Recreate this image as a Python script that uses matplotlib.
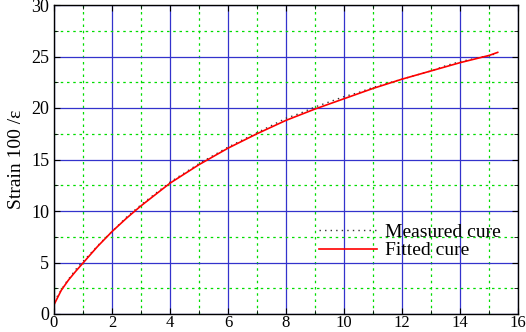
import matplotlib.pyplot as plt
from matplotlib.ticker import MultipleLocator

# measured / fitted strain curves
x_meas = [0.0, 0.4, 0.8, 1.2, 1.6, 2.0, 2.5, 3.0, 3.5, 4.0, 4.5, 5.0, 5.5, 6.0, 6.5, 7.0,
          7.5, 8.0, 8.5, 9.0, 9.5, 10.0, 10.5, 11.0, 11.5, 12.0, 12.5, 13.0, 13.5, 14.0,
          14.5, 15.0, 15.3]
y_meas = [1.2, 3.0, 4.5, 5.7, 6.9, 8.0, 9.4, 10.6, 11.7, 12.8, 13.7, 14.6, 15.4, 16.2, 16.9, 17.6,
          18.3, 19.0, 19.5, 20.1, 20.6, 21.1, 21.5, 22.0, 22.4, 22.8, 23.2, 23.6, 24.1, 24.5,
          24.8, 25.1, 25.3]
x_fit = [0.0, 0.25, 0.5, 0.75, 1.0, 1.5, 2.0, 2.5, 3.0, 4.0, 5.0, 6.0, 7.0, 8.0, 9.0,
         10.0, 11.0, 12.0, 13.0, 14.0, 15.0, 15.3]
y_fit = [0.9, 2.3, 3.3, 4.15, 4.95, 6.55, 8.0, 9.3, 10.5, 12.7, 14.5, 16.1, 17.5, 18.8, 19.9,
         20.9, 21.9, 22.8, 23.6, 24.4, 25.1, 25.4]

plt.rcParams['font.family'] = ['Liberation Serif', 'DejaVu Serif']

fig = plt.figure(figsize=(5.26, 3.32), dpi=100)
ax = fig.add_axes([54 / 526, 18 / 332, 464 / 526, 309 / 332])

ax.plot(x_meas, y_meas, linestyle=(0, (1, 3)), color='#333333', linewidth=1.0, label='Measured cure')
ax.plot(x_fit, y_fit, color='red', linewidth=1.2, label='Fitted cure')

ax.set_xlim(0, 16)
ax.set_ylim(0, 30)
ax.xaxis.set_major_locator(MultipleLocator(2))
ax.xaxis.set_minor_locator(MultipleLocator(1))
ax.yaxis.set_major_locator(MultipleLocator(5))
ax.yaxis.set_minor_locator(MultipleLocator(2.5))
ax.grid(which='major', color='#3333cc', linestyle='-', linewidth=0.9)
ax.grid(which='minor', color='#00dd00', linestyle=(0, (2, 3)), linewidth=0.9)
ax.set_axisbelow(True)
ax.tick_params(which='both', direction='in', top=True, right=True, labelsize=13, length=4)
ax.tick_params(axis='x', pad=1, labelsize=12)
ax.tick_params(which='minor', length=3)
for s in ax.spines.values():
    s.set_linewidth(1.0)

ax.set_ylabel('Strain 100 /ε', fontsize=14)
ax.legend(loc='lower right', bbox_to_anchor=(1.0, 0.12), frameon=False, fontsize=14,
          handlelength=3.0, labelspacing=0.05, handletextpad=0.4)

fig.savefig('out.png', dpi=100)
